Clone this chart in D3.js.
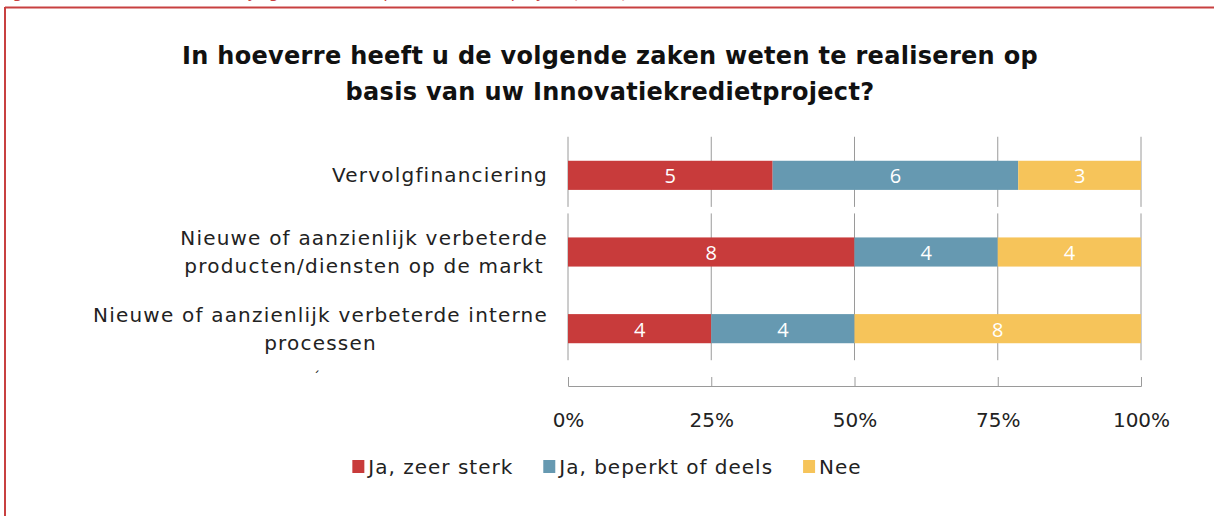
<!DOCTYPE html>
<html>
<head>
<meta charset="utf-8">
<script src="https://cdn.jsdelivr.net/npm/d3@7"></script>
<style>
  body { margin: 0; background: #fff; }
  text { font-family: "DejaVu Sans", sans-serif; }
</style>
</head>
<body>
<svg id="chart" width="1214" height="516"></svg>
<script>
// data
const categories = ["Vervolgfinanciering",
  "Nieuwe of aanzienlijk verbeterde producten/diensten op de markt",
  "Nieuwe of aanzienlijk verbeterde interne processen"];
const categoryLines = [["Vervolgfinanciering"],
  ["Nieuwe of aanzienlijk verbeterde", "producten/diensten op de markt"],
  ["Nieuwe of aanzienlijk verbeterde interne", "processen"]];
const seriesNames = ["Ja, zeer sterk", "Ja, beperkt of deels", "Nee"];
const jaZeerSterk = [5, 8, 4];
const jaBeperkt = [6, 4, 4];
const nee = [3, 4, 8];
const tickValues = [0, 0.25, 0.5, 0.75, 1];
const colors = ["#C83B3B", "#6699B1", "#F6C45A"];

(function() {
  const svg = d3.select("#chart");

  // frame of the page cut out (red rule top + left)
  svg.append("line").attr("x1", 5).attr("x2", 1214).attr("y1", 7.5).attr("y2", 7.5)
    .attr("stroke", "#C84040").attr("stroke-width", 2);
  svg.append("line").attr("x1", 5).attr("x2", 5).attr("y1", 7).attr("y2", 516)
    .attr("stroke", "#C84040").attr("stroke-width", 2);
  // caption above, mostly cut off
  svg.append("text").attr("x", 0).attr("y", -2)
    .attr("fill", "#C84040").style("font-size", "16px").style("font-style", "italic")
    .text("Figuur 12  Mate waarin zaken zijn gerealiseerd op basis van het project (n=16)");

  // title
  const title = svg.append("text").attr("text-anchor", "middle")
    .style("font-size", "24px").style("font-weight", "bold")
    .style("letter-spacing", "0.3px").attr("fill", "#111");
  title.append("tspan").attr("x", 610).attr("y", 64)
    .text("In hoeverre heeft u de volgende zaken weten te realiseren op");
  title.append("tspan").attr("x", 610).attr("y", 100)
    .text("basis van uw Innovatiekredietproject?");

  const rows = categories.map((c, i) => ({
    cat: c, "Ja, zeer sterk": jaZeerSterk[i], "Ja, beperkt of deels": jaBeperkt[i], "Nee": nee[i]
  }));
  const stacked = d3.stack().keys(seriesNames).offset(d3.stackOffsetExpand)(rows);

  const x = d3.scaleLinear().domain([0, 1]).range([568, 1141]);
  const y = d3.scaleBand().domain(categories).range([137, 367])
    .paddingInner(0.62).paddingOuter(0.31);
  const bw = y.bandwidth();

  // gridlines (drawn in two pieces like the original)
  const gridGroups = [[categories[0]], [categories[1], categories[2]]];
  gridGroups.forEach(g => {
    svg.append("g").selectAll("line").data(tickValues).join("line")
      .attr("x1", d => x(d)).attr("x2", d => x(d))
      .attr("y1", y(g[0]) - 24).attr("y2", y(g[g.length - 1]) + bw + 17)
      .attr("stroke", "#9a9a9a").attr("stroke-width", 1);
  });

  // bars
  const layers = svg.append("g").selectAll("g").data(stacked).join("g")
    .attr("fill", (d, i) => colors[i]);
  layers.selectAll("rect").data(d => d).join("rect")
    .attr("x", d => x(d[0]))
    .attr("width", d => x(d[1]) - x(d[0]))
    .attr("y", d => y(d.data.cat))
    .attr("height", bw);

  // value labels
  stacked.forEach(s => {
    svg.append("g").selectAll("text").data(s).join("text")
      .attr("x", d => (x(d[0]) + x(d[1])) / 2)
      .attr("y", d => y(d.data.cat) + bw / 2 + 8)
      .attr("text-anchor", "middle").attr("fill", "#fff")
      .style("font-family", "'Open Sans', sans-serif").style("font-size", "20px")
      .text(d => d.data[s.key]);
  });

  // category labels, centred block with right edge at the axis gap
  categories.forEach((c, i) => {
    const lines = categoryLines[i];
    const t = svg.append("text").attr("fill", "#222").style("font-size", "20px")
      .style("letter-spacing", "1.2px").attr("text-anchor", "middle");
    const spans = lines.map((l, j) => t.append("tspan").text(l));
    const maxW = d3.max(spans, s => s.node().getComputedTextLength());
    const cx = 548 - maxW / 2;
    const cy = y(c) + bw / 2;
    spans.forEach((s, j) => s.attr("x", cx)
      .attr("y", cy + 7 + (j - (lines.length - 1) / 2) * 28));
  });
  svg.append("text").attr("x", 313).attr("y", 382).attr("fill", "#222")
    .style("font-size", "14px").text("´");

  // x axis
  const axis = svg.append("g").attr("transform", "translate(0,386)")
    .call(d3.axisBottom(x).tickValues(tickValues).tickSize(-9).tickPadding(27)
      .tickFormat(d3.format(".0%")));
  axis.selectAll("path, line").attr("stroke", "#9a9a9a");
  axis.selectAll("text").attr("fill", "#222")
    .style("font-family", "'DejaVu Sans', sans-serif").style("font-size", "20px");

  // legend
  const legend = svg.append("g");
  let lx = 0;
  seriesNames.forEach((n, i) => {
    const item = legend.append("g").attr("transform", `translate(${lx},0)`);
    item.append("rect").attr("x", 0).attr("y", 460).attr("width", 12).attr("height", 13)
      .attr("fill", colors[i]);
    const t = item.append("text").attr("x", 16).attr("y", 474).attr("fill", "#222")
      .style("font-size", "20px").style("letter-spacing", "1px").text(n);
    lx += 16 + t.node().getComputedTextLength() + 30;
  });
  const legW = lx - 30;
  legend.attr("transform", `translate(${607 - legW / 2},0)`);
})();
</script>
</body>
</html>
